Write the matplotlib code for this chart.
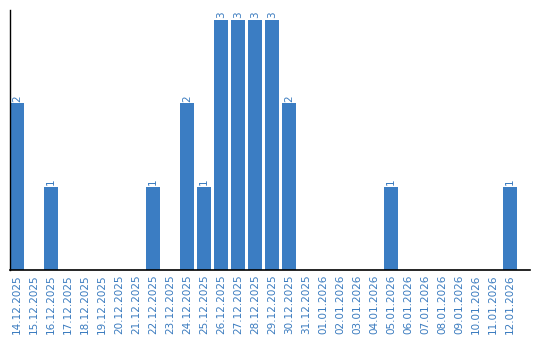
import matplotlib.pyplot as plt
import numpy as np

# Дати та кількість
dates = ["14.12.2025", "15.12.2025", "16.12.2025", "17.12.2025", "18.12.2025",
         "19.12.2025", "20.12.2025", "21.12.2025", "22.12.2025", "23.12.2025",
         "24.12.2025", "25.12.2025", "26.12.2025", "27.12.2025", "28.12.2025",
         "29.12.2025", "30.12.2025", "31.12.2025", "01.01.2026", "02.01.2026",
         "03.01.2026", "04.01.2026", "05.01.2026", "06.01.2026", "07.01.2026",
         "08.01.2026", "09.01.2026", "10.01.2026", "11.01.2026", "12.01.2026"]
counts = [2, 0, 1, 0, 0, 0, 0, 0, 1, 0,
          2, 1, 3, 3, 3, 3, 2, 0, 0, 0,
          0, 0, 1, 0, 0, 0, 0, 0, 0, 1]

bar_color = "#3b7dc3"
text_color = "#3a7bbf"

fig = plt.figure(figsize=(5.4, 3.4), dpi=100)
ax = fig.add_axes([10 / 540, 70 / 340, 520 / 540, 260 / 340])

x = np.arange(len(dates))
ax.bar(x, counts, width=14 / 17, align="edge", color=bar_color)

# Підписи над стовпчиками
for xi, c in zip(x, counts):
    if c > 0:
        ax.text(xi + 7 / 17, c + 0.02, str(c), rotation=90, ha="center", va="bottom",
                fontsize=7.5, color=text_color)

ax.set_xlim(0, 520 / 17)
ax.set_ylim(0, 260 / 83.3)
ax.set_xticks(x + 7 / 17)
ax.set_xticklabels(dates, rotation=90, fontsize=7.5, color=text_color)
ax.tick_params(axis="x", length=0, pad=3)
ax.set_yticks([])

for side in ["top", "right"]:
    ax.spines[side].set_visible(False)
ax.spines["left"].set_linewidth(1)
ax.spines["bottom"].set_linewidth(1.2)

plt.savefig("out.png", dpi=100, facecolor="white")
